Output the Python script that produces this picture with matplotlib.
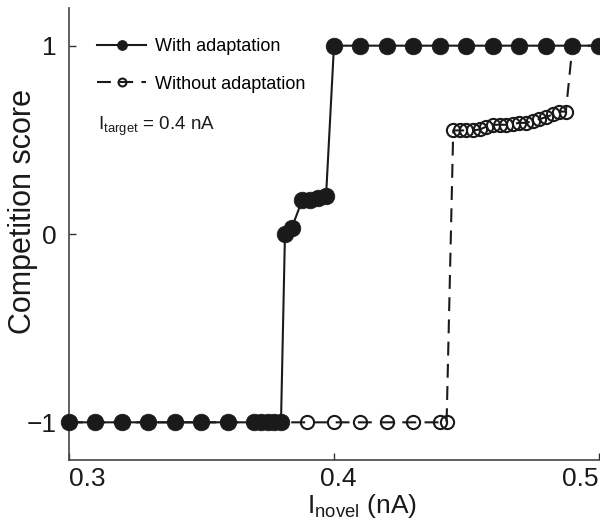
import matplotlib
matplotlib.use("Agg")
import matplotlib.pyplot as plt
import matplotlib.transforms as mtransforms

plt.rcParams['font.family'] = ['Liberation Sans', 'DejaVu Sans']
plt.rcParams['mathtext.fontset'] = 'custom'
plt.rcParams['mathtext.rm'] = 'Liberation Sans'
plt.rcParams['lines.scale_dashes'] = False

# With adaptation (filled markers)
x_with = [0.30, 0.31, 0.32, 0.33, 0.34, 0.35, 0.36, 0.37, 0.3725, 0.375, 0.3775, 0.38,
          0.3815, 0.384, 0.388, 0.391, 0.394, 0.397,
          0.40, 0.41, 0.42, 0.43, 0.44, 0.45, 0.46, 0.47, 0.48, 0.49, 0.50]
y_with = [-1, -1, -1, -1, -1, -1, -1, -1, -1, -1, -1, -1,
          0.0, 0.03, 0.18, 0.18, 0.19, 0.20,
          1, 1, 1, 1, 1, 1, 1, 1, 1, 1, 1]

# Without adaptation (open markers)
x_without = [0.30, 0.31, 0.32, 0.33, 0.34, 0.35, 0.36, 0.37, 0.38, 0.39, 0.40, 0.41, 0.42,
             0.43, 0.44, 0.4425,
             0.445, 0.4475, 0.45, 0.4525, 0.455, 0.4575, 0.46, 0.4625, 0.465, 0.4675,
             0.47, 0.4725, 0.475, 0.4775, 0.48, 0.4825, 0.485, 0.4875,
             0.49, 0.50]
y_without = [-1, -1, -1, -1, -1, -1, -1, -1, -1, -1, -1, -1, -1,
             -1, -1, -1,
             0.55, 0.55, 0.55, 0.55, 0.555, 0.57, 0.58, 0.58, 0.58, 0.585,
             0.59, 0.59, 0.60, 0.61, 0.62, 0.635, 0.65, 0.65,
             1, 1]

xticks = [0.3, 0.4, 0.5]
xtick_labels = ['0.3', '0.4', '0.5']
yticks = [-1, 0, 1]
ytick_labels = ['\u22121', '0', '1']

label_with = 'With adaptation'
label_without = 'Without adaptation'
note = r'$\mathregular{I_{target}}$ = 0.4 nA'

ink = '#1a1a1a'

fig = plt.figure(figsize=(6, 5.2), dpi=100)
ax = fig.add_axes([0.115, 0.1154, 0.8833, 0.8692])

l2, = ax.plot(x_without, y_without, color=ink, lw=1.5, dashes=(10, 6),
              marker='o', ms=9.5, mfc='none', mec=ink, mew=1.5, clip_on=False, zorder=3)
l1, = ax.plot(x_with, y_with, color=ink, lw=1.5, linestyle='-',
              marker='o', ms=12, mfc=ink, mec=ink, mew=0.5, clip_on=False, zorder=4)

ax.set_xlim(0.3, 0.5)
ax.set_ylim(-1.2, 1.2)
ax.set_xticks(xticks)
ax.set_xticklabels(xtick_labels)
ax.set_yticks(yticks)
ax.set_yticklabels(ytick_labels)
ax.tick_params(direction='in', length=5, width=1, colors='#333333', labelcolor=ink,
               labelsize=19)
ax.tick_params(axis='x', pad=5)
ax.tick_params(axis='y', pad=9)
ax.spines['top'].set_visible(False)
ax.spines['right'].set_visible(False)
for s in ('left', 'bottom'):
    ax.spines[s].set_color('#444444')
    ax.spines[s].set_linewidth(1.2)

# keep the outer tick labels inside the figure, as in the reference
xl = ax.get_xticklabels()
xl[0].set_ha('left')
xl[-1].set_ha('right')
xl[1].set_transform(xl[1].get_transform() +
                    mtransforms.ScaledTranslation(4 / 100, 0, fig.dpi_scale_trans))

ax.set_xlabel(r'$\mathregular{I_{novel}}$ (nA)', fontsize=19, color=ink)
ax.xaxis.set_label_coords(0.553, -0.071)
ax.xaxis.label.set_va('top')
ax.set_ylabel('Competition score', fontsize=22, color=ink)
ax.yaxis.set_label_coords(-0.058, 0.549)

leg = ax.legend([l1, l2], [label_with, label_without], loc='upper left',
                bbox_to_anchor=(0.04, 0.950), frameon=False, fontsize=13,
                handlelength=2.7, handletextpad=0.5, labelspacing=1.15,
                markerscale=0.6, numpoints=1, borderaxespad=0)
ax.text(0.055, 0.730, note, transform=ax.transAxes, fontsize=13.5, color=ink,
        va='baseline', ha='left')

fig.savefig('out.png', dpi=100)
